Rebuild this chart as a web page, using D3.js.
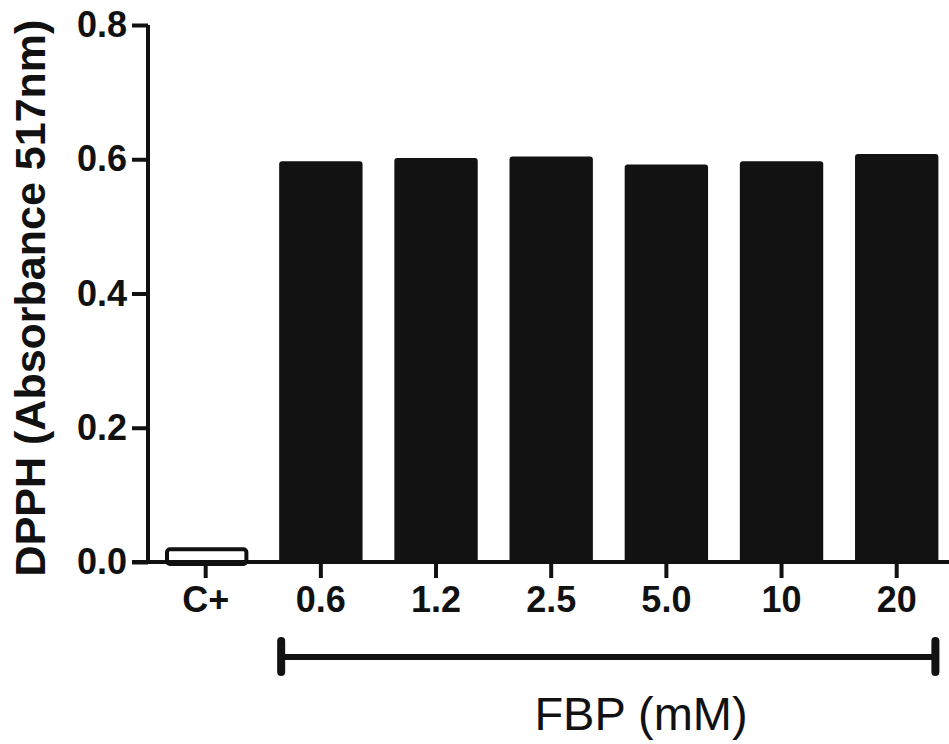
<!DOCTYPE html>
<html>
<head>
<meta charset="utf-8">
<script src="https://cdn.jsdelivr.net/npm/d3@7"></script>
<style>
  body { margin: 0; background: #fff; }
  svg text { font-family: "Liberation Sans", Arial, sans-serif; }
</style>
</head>
<body>
<svg></svg>
<script>
var width = 949,
  height = 744;

// data
var categories = ["C+", "0.6", "1.2", "2.5", "5.0", "10", "20"];
var values = [0.019, 0.597, 0.602, 0.604, 0.592, 0.597, 0.608];
var yTicks = [0, 0.2, 0.4, 0.6, 0.8];
var bracketGroup = ["0.6", "20"];

var svg = d3.select("svg")
  .attr("width", width)
  .attr("height", height);

var x = d3.scaleBand()
  .domain(categories)
  .range([164, 938.4])
  .paddingInner(0.276)
  .paddingOuter(0);

var y = d3.scaleLinear()
  .domain([0, 0.8])
  .range([562, 25]);

// bars
svg.append("g")
  .selectAll("rect")
  .data(values)
  .enter().append("rect")
  .attr("x", (d, i) => i == 0 ? x(categories[i]) + 3 : x(categories[i]))
  .attr("width", (d, i) => i == 0 ? x.bandwidth() - 4 : x.bandwidth())
  .attr("y", d => y(d))
  .attr("height", d => y(0) - y(d) + 2)
  .attr("rx", 3)
  .style("fill", (d, i) => i == 0 ? "#fff" : "#121212")
  .style("stroke", (d, i) => i == 0 ? "#111" : "none")
  .style("stroke-width", 4);

// y axis
var yAxis = svg.append("g")
  .attr("transform", "translate(148,0)")
  .call(d3.axisLeft(y).tickValues(yTicks).tickFormat(d3.format(".1f")).tickSize(16).tickPadding(5));

// x axis
var xAxis = svg.append("g")
  .attr("transform", "translate(0,562)")
  .call(d3.axisBottom(x).tickSize(16).tickPadding(8));

xAxis.select(".domain").attr("d", "M132,0H949");
yAxis.select(".domain").attr("d", "M0,25V562");

svg.selectAll(".domain, .tick line")
  .style("stroke", "#111")
  .style("stroke-width", 4);

svg.selectAll(".tick text")
  .style("font-size", "36px")
  .style("font-weight", "bold")
  .style("fill", "#111");

// bracket under the FBP doses
var bx0 = x(bracketGroup[0]) + 2,
  bx1 = x(bracketGroup[1]) + x.bandwidth() - 3;
var bracket = svg.append("g")
  .style("stroke", "#111")
  .style("stroke-linecap", "round");
bracket.append("line")
  .attr("x1", bx0).attr("x2", bx1)
  .attr("y1", 657).attr("y2", 657)
  .style("stroke-width", 6);
bracket.selectAll("line.cap")
  .data([bx0, bx1])
  .enter().append("line")
  .attr("class", "cap")
  .attr("x1", d => d).attr("x2", d => d)
  .attr("y1", 641).attr("y2", 672)
  .style("stroke-width", 8);

svg.append("text")
  .attr("x", 641)
  .attr("y", 730)
  .attr("text-anchor", "middle")
  .style("font-size", "47px")
  .style("fill", "#111")
  .text("FBP (mM)");

svg.append("text")
  .attr("transform", "translate(45,298) rotate(-90)")
  .attr("text-anchor", "middle")
  .style("font-size", "43px")
  .style("font-weight", "bold")
  .style("fill", "#111")
  .text("DPPH (Absorbance 517nm)");
</script>
</body>
</html>
